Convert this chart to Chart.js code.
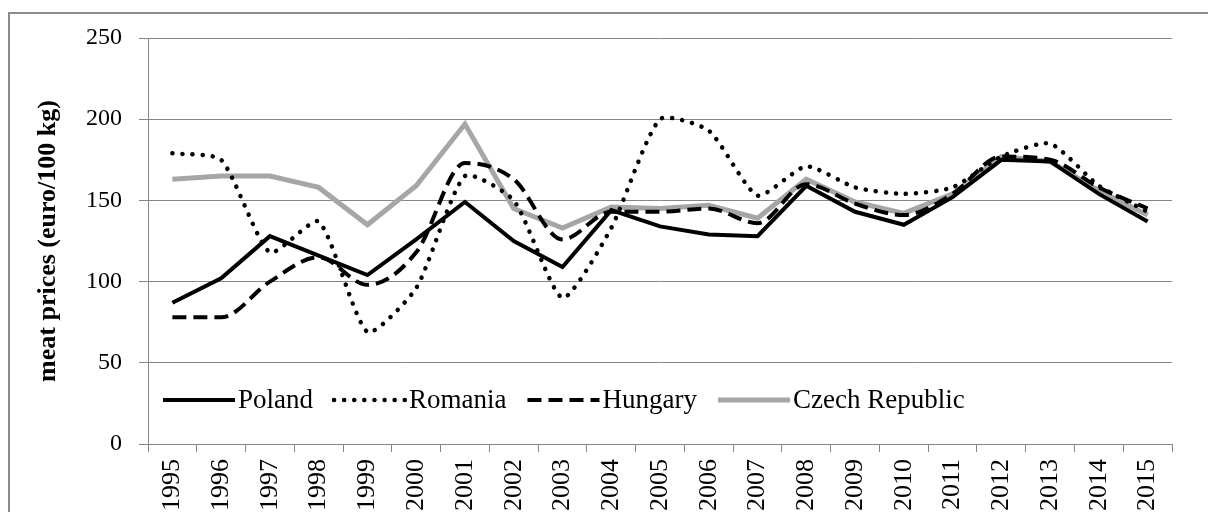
<!DOCTYPE html>
<html>
<head>
<meta charset="utf-8">
<script src="https://cdn.jsdelivr.net/npm/chart.js@4.4.1/dist/chart.umd.min.js"></script>
<style>
  html, body { margin: 0; padding: 0; background: #fff; overflow: hidden; }
  body { width: 1208px; height: 512px; position: relative; }
  .frame { position: absolute; left: 8px; top: 12px; width: 1400px; height: 700px; border: 2px solid #8c8c8c; }
  #meat { position: absolute; left: 0; top: 0; }
</style>
</head>
<body>
<div class="frame"></div>
<canvas id="meat" width="1208" height="560"></canvas>
<script>
const years = ['1995', '1996', '1997', '1998', '1999', '2000', '2001', '2002', '2003', '2004', '2005',
               '2006', '2007', '2008', '2009', '2010', '2011', '2012', '2013', '2014', '2015'];
const poland  = [87, 102, 128, 116, 104, 126, 149, 125, 109, 144, 134, 129, 128, 159, 143, 135, 152, 175, 174, 154, 137];
const romania = [179, 175, 118, 137, 69, 96, 165, 150, 90, 133, 200, 193, 153, 171, 158, 154, 158, 177, 185, 159, 143];
const hungary = [78, 78, 100, 115, 98, 118, 173, 163, 126, 143, 143, 145, 136, 160, 148, 141, 154, 177, 175, 158, 145];
const czech   = [163, 165, 165, 158, 135, 159, 197, 145, 133, 146, 145, 147, 139, 163, 149, 142, 154, 177, 174, 156, 141];

const serif = 'Liberation Serif, Times New Roman, serif';
const gridGray = '#868686';

// legend drawn inside the plot, one row along the bottom
const insideLegend = {
    id: 'insideLegend',
    afterDraw(chart, args, opts) {
        const ctx = chart.ctx;
        let x = opts.x;
        ctx.save();
        ctx.font = opts.size + 'px ' + serif;
        ctx.textBaseline = 'middle';
        chart.data.datasets.forEach(ds => {
            ctx.beginPath();
            ctx.lineWidth = ds.borderWidth;
            ctx.strokeStyle = ds.borderColor;
            ctx.lineCap = ds.borderCapStyle || 'butt';
            ctx.setLineDash(ds.borderDash || []);
            ctx.moveTo(x, opts.y);
            ctx.lineTo(x + opts.sample, opts.y);
            ctx.stroke();
            ctx.setLineDash([]);
            x += opts.sample + 3;
            ctx.fillStyle = '#000';
            ctx.fillText(ds.label, x, opts.y + 1);
            x += ctx.measureText(ds.label).width + opts.gap;
        });
        ctx.restore();
    }
};

new Chart(document.getElementById('meat').getContext('2d'), {
    type: 'line',
    data: {
        labels: years,
        datasets: [
            { label: 'Poland', data: poland, borderColor: '#000', borderWidth: 4, tension: 0 },
            { label: 'Romania', data: romania, borderColor: '#000', borderWidth: 4.5,
              borderDash: [0.1, 10], borderCapStyle: 'round', tension: 0.2 },
            { label: 'Hungary', data: hungary, borderColor: '#000', borderWidth: 4,
              borderDash: [14, 7], cubicInterpolationMode: 'monotone' },
            { label: 'Czech Republic', data: czech, borderColor: '#a6a6a6', borderWidth: 5, tension: 0 }
        ]
    },
    options: {
        responsive: false,
        animation: false,
        devicePixelRatio: 1,
        layout: { padding: { top: 38, right: 36, left: 0, bottom: 0 } },
        elements: { point: { radius: 0 } },
        plugins: {
            legend: { display: false },
            tooltip: { enabled: false },
            insideLegend: { x: 163, y: 400, sample: 72, gap: 21, size: 27 }
        },
        scales: {
            x: {
                offset: true,
                grid: { drawOnChartArea: false, drawTicks: true, tickLength: 8, color: gridGray, offset: true },
                border: { color: gridGray, width: 1 },
                ticks: {
                    autoSkip: false, minRotation: 90, maxRotation: 90, padding: 7,
                    color: '#000', font: { family: serif, size: 26 }
                },
                afterFit: scale => { scale.height = 116; }
            },
            y: {
                min: 0,
                max: 250,
                grid: { color: gridGray, tickLength: 9 },
                border: { color: gridGray, width: 1 },
                ticks: { stepSize: 50, padding: 17, color: '#000', font: { family: serif, size: 24 } },
                title: {
                    display: true,
                    text: 'meat prices (euro/100 kg)',
                    color: '#000',
                    font: { family: serif, size: 26, weight: 'bold' },
                    padding: { top: 33, bottom: 0 }
                },
                afterFit: scale => { scale.width = 148; }
            }
        }
    },
    plugins: [insideLegend]
});
</script>
</body>
</html>
